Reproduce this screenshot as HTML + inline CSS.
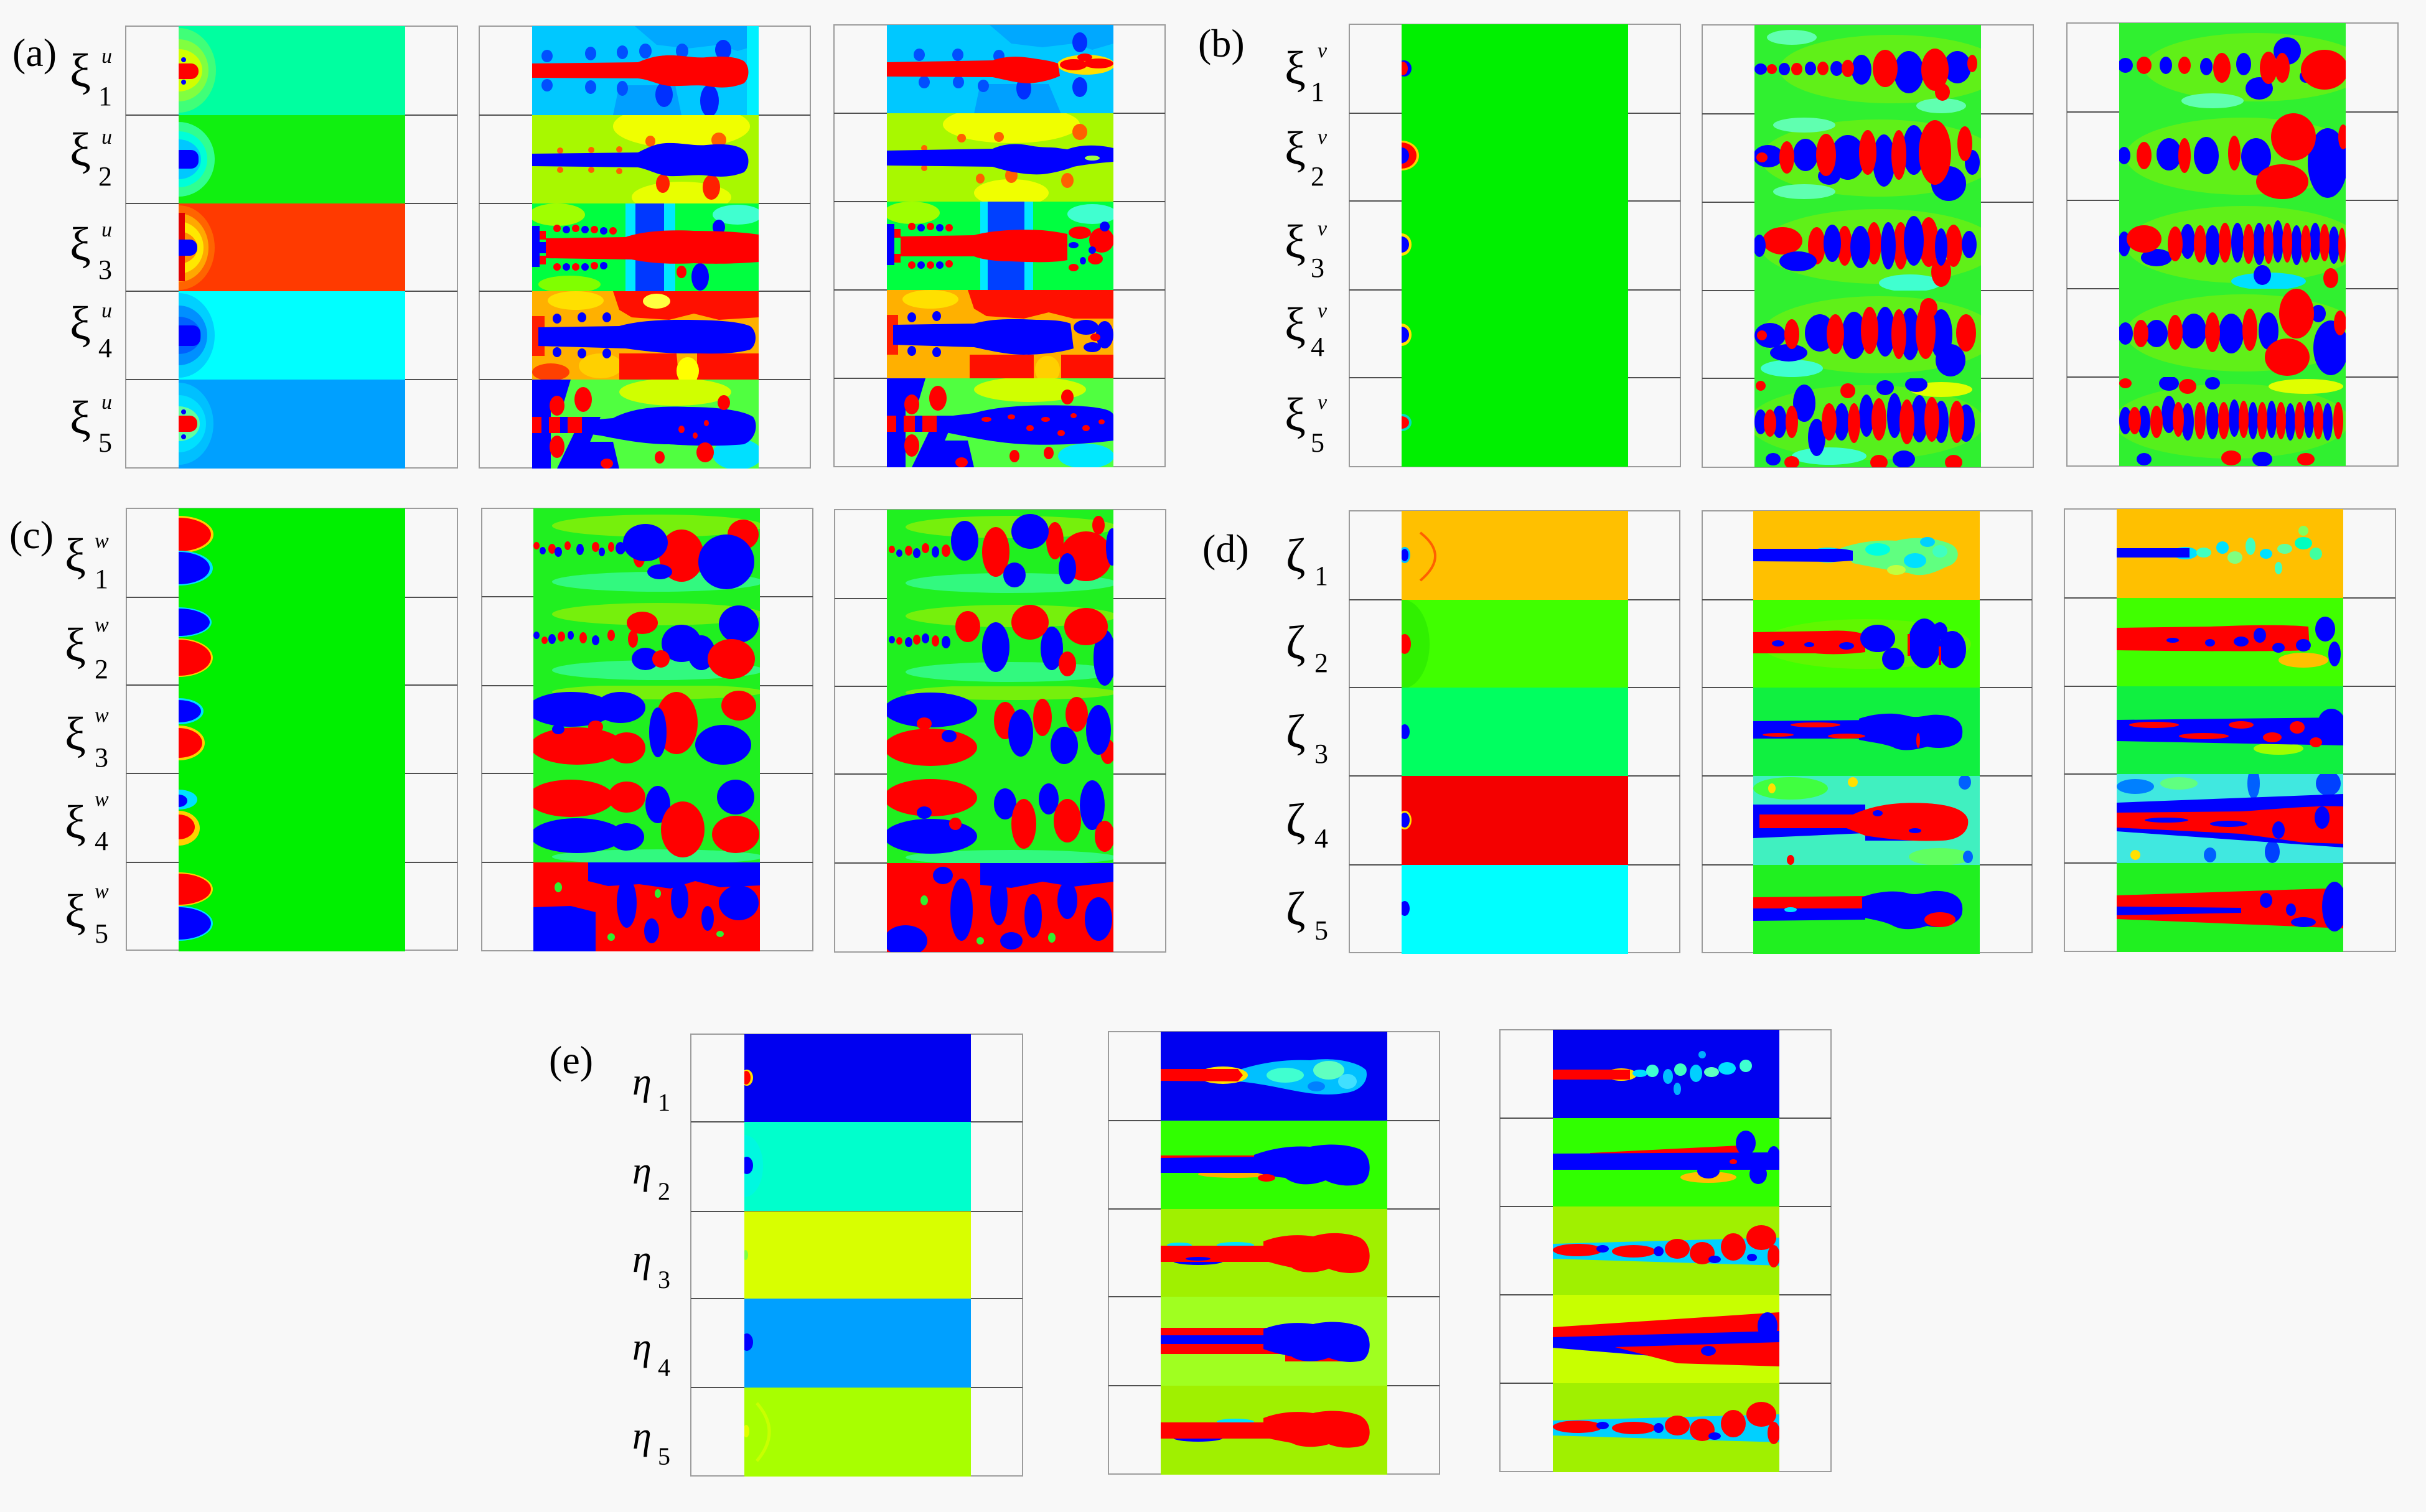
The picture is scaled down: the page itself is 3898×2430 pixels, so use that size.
<!DOCTYPE html>
<html><head><meta charset="utf-8"><style>
html,body{margin:0;padding:0;background:#f8f8f8;}
svg{display:block}
.r{fill:#ff0000}.b{fill:#0000ff}.y{fill:#ffff00}.c{fill:#00ffff}.k{fill:#0050ff}
.t{font-family:"Liberation Serif",serif;fill:#000}
.fr{fill:#f8f8f8;stroke:#9c9c9c;stroke-width:2}
.ln{stroke:#505050;stroke-width:2}
</style></head><body>
<svg width="3898" height="2430" xmlns="http://www.w3.org/2000/svg">
<defs><clipPath id="cp"><rect width="364" height="143"/></clipPath></defs>
<rect width="3898" height="2430" fill="#f8f8f8"/>

<!-- FRAMES -->
<rect class="fr" x="202" y="42" width="533" height="710"/>
<rect class="fr" x="770" y="42" width="532" height="710"/>
<rect class="fr" x="1340" y="40" width="532" height="710"/>
<rect class="fr" x="2168" y="39" width="532" height="711"/>
<rect class="fr" x="2735" y="40" width="532" height="711"/>
<rect class="fr" x="3321" y="37" width="532" height="712"/>
<rect class="fr" x="203" y="817" width="532" height="710"/>
<rect class="fr" x="774" y="817" width="532" height="711"/>
<rect class="fr" x="1341" y="819" width="532" height="711"/>
<rect class="fr" x="2168" y="821" width="531" height="710"/>
<rect class="fr" x="2735" y="821" width="530" height="710"/>
<rect class="fr" x="3317" y="818" width="532" height="711"/>
<rect class="fr" x="1110" y="1662" width="533" height="710"/>
<rect class="fr" x="1781" y="1658" width="532" height="711"/>
<rect class="fr" x="2410" y="1655" width="532" height="710"/>
<g class="ln">
<line x1="202" x2="735" y1="185" y2="185"/><line x1="202" x2="735" y1="327" y2="327"/><line x1="202" x2="735" y1="468" y2="468"/><line x1="202" x2="735" y1="610" y2="610"/>
<line x1="770" x2="1302" y1="185" y2="185"/><line x1="770" x2="1302" y1="327" y2="327"/><line x1="770" x2="1302" y1="468" y2="468"/><line x1="770" x2="1302" y1="610" y2="610"/>
<line x1="1340" x2="1872" y1="182" y2="182"/><line x1="1340" x2="1872" y1="324" y2="324"/><line x1="1340" x2="1872" y1="466" y2="466"/><line x1="1340" x2="1872" y1="608" y2="608"/>
<line x1="2168" x2="2700" y1="182" y2="182"/><line x1="2168" x2="2700" y1="323" y2="323"/><line x1="2168" x2="2700" y1="466" y2="466"/><line x1="2168" x2="2700" y1="607" y2="607"/>
<line x1="2735" x2="3267" y1="183" y2="183"/><line x1="2735" x2="3267" y1="325" y2="325"/><line x1="2735" x2="3267" y1="467" y2="467"/><line x1="2735" x2="3267" y1="608" y2="608"/>
<line x1="3321" x2="3853" y1="180" y2="180"/><line x1="3321" x2="3853" y1="322" y2="322"/><line x1="3321" x2="3853" y1="464" y2="464"/><line x1="3321" x2="3853" y1="606" y2="606"/>
<line x1="203" x2="735" y1="960" y2="960"/><line x1="203" x2="735" y1="1101" y2="1101"/><line x1="203" x2="735" y1="1243" y2="1243"/><line x1="203" x2="735" y1="1386" y2="1386"/>
<line x1="774" x2="1306" y1="959" y2="959"/><line x1="774" x2="1306" y1="1102" y2="1102"/><line x1="774" x2="1306" y1="1243" y2="1243"/><line x1="774" x2="1306" y1="1386" y2="1386"/>
<line x1="1341" x2="1873" y1="962" y2="962"/><line x1="1341" x2="1873" y1="1103" y2="1103"/><line x1="1341" x2="1873" y1="1244" y2="1244"/><line x1="1341" x2="1873" y1="1387" y2="1387"/>
<line x1="2168" x2="2699" y1="964" y2="964"/><line x1="2168" x2="2699" y1="1105" y2="1105"/><line x1="2168" x2="2699" y1="1247" y2="1247"/><line x1="2168" x2="2699" y1="1390" y2="1390"/>
<line x1="2735" x2="3265" y1="964" y2="964"/><line x1="2735" x2="3265" y1="1105" y2="1105"/><line x1="2735" x2="3265" y1="1247" y2="1247"/><line x1="2735" x2="3265" y1="1390" y2="1390"/>
<line x1="3317" x2="3849" y1="961" y2="961"/><line x1="3317" x2="3849" y1="1103" y2="1103"/><line x1="3317" x2="3849" y1="1244" y2="1244"/><line x1="3317" x2="3849" y1="1387" y2="1387"/>
<line x1="1110" x2="1643" y1="1803" y2="1803"/><line x1="1110" x2="1643" y1="1947" y2="1947"/><line x1="1110" x2="1643" y1="2087" y2="2087"/><line x1="1110" x2="1643" y1="2230" y2="2230"/>
<line x1="1781" x2="2313" y1="1801" y2="1801"/><line x1="1781" x2="2313" y1="1943" y2="1943"/><line x1="1781" x2="2313" y1="2084" y2="2084"/><line x1="1781" x2="2313" y1="2227" y2="2227"/>
<line x1="2410" x2="2942" y1="1797" y2="1797"/><line x1="2410" x2="2942" y1="1939" y2="1939"/><line x1="2410" x2="2942" y1="2081" y2="2081"/><line x1="2410" x2="2942" y1="2223" y2="2223"/>
</g>

<!-- ===== PANEL A col1 ===== -->
<g transform="translate(287,42)" clip-path="url(#cp)">
<rect width="364" height="143" fill="#00ffa0"/>
<ellipse cx="0" cy="71" rx="60" ry="68" fill="#40ff78"/><ellipse cx="0" cy="71" rx="48" ry="50" fill="#80ff40"/><ellipse cx="0" cy="71" rx="38" ry="34" fill="#d0ff00"/>
<rect x="-10" y="60" width="42" height="25" rx="12" class="r"/><circle cx="8" cy="54" r="4" class="b"/><circle cx="8" cy="90" r="4" class="b"/>
</g>
<g transform="translate(287,185)" clip-path="url(#cp)">
<rect width="364" height="143" fill="#10f010"/>
<ellipse cx="0" cy="71" rx="58" ry="60" fill="#30ff90"/><ellipse cx="0" cy="71" rx="46" ry="45" fill="#00ffd8"/><ellipse cx="0" cy="71" rx="36" ry="32" fill="#00c8ff"/>
<rect x="-10" y="56" width="42" height="30" rx="12" class="b"/>
</g>
<g transform="translate(287,327)" clip-path="url(#cp)">
<rect width="364" height="143" fill="#ff3a00"/>
<ellipse cx="0" cy="71" rx="58" ry="68" fill="#ff6400"/><ellipse cx="0" cy="71" rx="48" ry="55" fill="#ffa800"/><ellipse cx="0" cy="71" rx="40" ry="42" fill="#ffe800"/><ellipse cx="0" cy="71" rx="30" ry="26" fill="#ff9000"/>
<rect x="0" y="15" width="10" height="110" fill="#e00000"/>
<rect x="-10" y="58" width="40" height="26" rx="12" class="b"/>
</g>
<g transform="translate(287,468)" clip-path="url(#cp)">
<rect width="364" height="143" fill="#00ffff"/>
<ellipse cx="0" cy="71" rx="58" ry="68" fill="#00d0ff"/><ellipse cx="0" cy="71" rx="46" ry="48" fill="#0090ff"/><ellipse cx="0" cy="71" rx="36" ry="30" fill="#0060ff"/>
<rect x="-10" y="55" width="45" height="33" rx="12" class="b"/>
</g>
<g transform="translate(287,610)" clip-path="url(#cp)">
<rect width="364" height="143" fill="#00a0ff"/>
<ellipse cx="0" cy="71" rx="56" ry="66" fill="#00c0ff"/><ellipse cx="0" cy="71" rx="44" ry="46" fill="#00e0ff"/><ellipse cx="0" cy="71" rx="34" ry="28" fill="#60ffa0"/>
<rect x="-10" y="58" width="40" height="26" rx="12" class="r"/><circle cx="8" cy="52" r="4" class="b"/><circle cx="8" cy="92" r="4" class="b"/>
</g>

<!-- ===== PANEL A col2 ===== -->
<g transform="translate(855,42)" clip-path="url(#cp)">
<rect width="364" height="143" fill="#00c8ff"/>
<path d="M165,0 L364,0 L364,30 L330,40 L300,30 L250,36 L200,30 Z" fill="#00a8ff"/>
<path d="M140,95 L230,95 L240,143 L130,143 Z" fill="#00a0ff"/>
<rect x="345" width="19" height="143" fill="#00f0ff"/>
<g class="k"><ellipse cx="24" cy="48" rx="9" ry="10"/><ellipse cx="94" cy="44" rx="9" ry="11"/><ellipse cx="145" cy="42" rx="9" ry="11"/><ellipse cx="182" cy="40" rx="10" ry="12"/><ellipse cx="241" cy="40" rx="10" ry="12"/><ellipse cx="24" cy="95" rx="9" ry="10"/><ellipse cx="94" cy="98" rx="9" ry="11"/><ellipse cx="145" cy="100" rx="9" ry="12"/></g>
<ellipse cx="307" cy="38" rx="13" ry="16" fill="#0030ff"/><ellipse cx="212" cy="110" rx="14" ry="20" fill="#0030ff"/><ellipse cx="285" cy="120" rx="15" ry="26" fill="#0020ff"/>
<path d="M0,60 L170,58 C190,50 200,48 215,47 C240,46 260,52 280,50 C310,47 330,50 340,56 C350,64 350,84 340,92 C320,100 300,100 280,96 C260,94 240,97 220,96 C200,94 190,86 170,84 L0,83 Z" class="r"/>
</g>
<g transform="translate(855,185)" clip-path="url(#cp)">
<rect width="364" height="143" fill="#a8f800"/>
<ellipse cx="240" cy="18" rx="110" ry="35" fill="#f0ff00"/><ellipse cx="240" cy="132" rx="80" ry="25" fill="#e8ff00"/>
<g fill="#ff6000"><ellipse cx="190" cy="42" rx="8" ry="9"/><ellipse cx="300" cy="40" rx="12" ry="12"/><ellipse cx="45" cy="57" rx="5" ry="5"/><ellipse cx="95" cy="56" rx="5" ry="5"/><ellipse cx="140" cy="55" rx="5" ry="5"/><ellipse cx="45" cy="88" rx="5" ry="5"/><ellipse cx="95" cy="88" rx="5" ry="5"/><ellipse cx="140" cy="90" rx="5" ry="5"/></g>
<g fill="#ff2000"><ellipse cx="210" cy="110" rx="11" ry="15"/><ellipse cx="288" cy="116" rx="14" ry="20"/></g>
<path d="M0,62 L170,60 C190,50 200,46 215,45 C240,44 260,50 280,48 C310,45 330,48 340,56 C350,64 350,84 340,92 C320,100 300,100 280,97 C260,95 240,99 220,98 C200,96 190,88 170,84 L0,82 Z" class="b"/>
</g>
<g transform="translate(855,327)" clip-path="url(#cp)">
<rect width="364" height="143" fill="#00ff40"/>
<ellipse cx="40" cy="18" rx="45" ry="18" fill="#a0ff00"/><ellipse cx="330" cy="18" rx="40" ry="16" fill="#40ffd0"/><ellipse cx="60" cy="130" rx="50" ry="14" fill="#80ff00"/>
<rect x="150" width="80" height="143" fill="#00e8ff"/><rect x="166" width="46" height="143" fill="#0038ff"/>
<ellipse cx="270" cy="118" rx="14" ry="22" class="b"/><ellipse cx="300" cy="38" rx="10" ry="12" class="b"/><ellipse cx="240" cy="110" rx="8" ry="10" class="r"/>
<g class="r"><circle cx="40" cy="40" r="6"/><circle cx="70" cy="40" r="6"/><circle cx="100" cy="42" r="6"/><circle cx="130" cy="44" r="6"/><circle cx="40" cy="102" r="6"/><circle cx="70" cy="102" r="6"/><circle cx="100" cy="100" r="6"/></g>
<g class="b"><circle cx="55" cy="42" r="6"/><circle cx="85" cy="42" r="6"/><circle cx="115" cy="44" r="6"/><circle cx="55" cy="102" r="6"/><circle cx="85" cy="102" r="6"/><circle cx="115" cy="100" r="6"/></g>
<path d="M22,56 L150,54 C180,44 220,42 260,44 C300,44 340,46 364,50 L364,94 C340,96 300,98 260,96 C220,98 190,96 160,90 L22,88 Z" class="r"/>
<rect x="0" y="36" width="12" height="66" class="b"/><rect x="12" y="44" width="10" height="14" class="r"/><rect x="12" y="84" width="10" height="14" class="r"/><rect x="12" y="62" width="10" height="18" class="b"/>
</g>
<g transform="translate(855,468)" clip-path="url(#cp)">
<rect width="364" height="143" fill="#ffb000"/>
<ellipse cx="70" cy="15" rx="45" ry="15" fill="#ffe000"/><ellipse cx="110" cy="120" rx="35" ry="20" fill="#ffd000"/>
<path d="M130,0 L364,0 L364,42 L300,46 L260,36 L220,46 L160,42 L140,30 Z" fill="#ff1000"/>
<ellipse cx="200" cy="16" rx="22" ry="12" fill="#ffff40"/>
<rect x="0" y="40" width="20" height="64" fill="#ff2000"/>
<path d="M140,100 L232,100 L236,143 L140,143 Z" fill="#ff1000"/><path d="M265,100 L364,100 L364,143 L265,143 Z" fill="#ff1000"/>
<ellipse cx="250" cy="128" rx="18" ry="22" fill="#ffff00"/><ellipse cx="30" cy="130" rx="30" ry="14" fill="#ff4000"/>
<g class="b"><ellipse cx="40" cy="44" rx="7" ry="8"/><ellipse cx="80" cy="42" rx="7" ry="8"/><ellipse cx="120" cy="42" rx="7" ry="8"/><ellipse cx="40" cy="98" rx="7" ry="8"/><ellipse cx="80" cy="100" rx="7" ry="8"/><ellipse cx="120" cy="100" rx="7" ry="8"/></g>
<path d="M10,58 L140,56 C170,48 200,46 240,46 C290,46 330,48 350,56 C362,64 362,86 350,94 C320,102 290,100 250,100 C210,100 180,96 150,92 L10,88 Z" class="b"/>
</g>
<g transform="translate(855,610)" clip-path="url(#cp)">
<rect width="364" height="143" fill="#50ff40"/>
<ellipse cx="230" cy="20" rx="90" ry="22" fill="#d0ff00"/><ellipse cx="330" cy="120" rx="40" ry="25" fill="#00e0ff"/>
<rect x="0" y="0" width="30" height="143" class="b"/>
<path d="M40,143 L75,143 L110,60 L80,60 Z" class="b"/><path d="M30,0 L62,0 L50,40 L25,50 Z" class="b"/><path d="M70,100 L130,100 L140,143 L60,143 Z" class="b"/>
<ellipse cx="82" cy="32" rx="14" ry="20" class="r"/><ellipse cx="40" cy="42" rx="12" ry="16" class="r"/><ellipse cx="40" cy="108" rx="12" ry="18" class="r"/>
<rect x="0" y="60" width="80" height="26" class="r"/><rect x="15" y="60" width="12" height="26" class="b"/><rect x="45" y="60" width="12" height="26" class="b"/>
<path d="M80,66 L130,62 C160,46 200,42 250,44 C300,44 340,50 355,60 C364,72 360,96 340,104 C300,108 250,106 220,104 C180,104 140,96 110,90 L80,86 Z" class="b"/>
<g class="r"><ellipse cx="240" cy="80" rx="5" ry="6"/><ellipse cx="262" cy="90" rx="4" ry="5"/><ellipse cx="280" cy="70" rx="4" ry="5"/><ellipse cx="278" cy="117" rx="14" ry="16"/><ellipse cx="205" cy="125" rx="8" ry="10"/><ellipse cx="308" cy="37" rx="10" ry="12"/><ellipse cx="120" cy="135" rx="10" ry="8"/></g>
</g>

<!-- ===== PANEL A col3 ===== -->
<g transform="translate(1425,40)" clip-path="url(#cp)">
<rect width="364" height="143" fill="#00c8ff"/>
<path d="M165,0 L364,0 L364,30 L330,40 L300,30 L250,36 L200,30 Z" fill="#00a8ff"/>
<path d="M150,95 L260,95 L280,143 L140,143 Z" fill="#00a0ff"/>
<g class="k"><ellipse cx="52" cy="48" rx="9" ry="10"/><ellipse cx="114" cy="48" rx="9" ry="10"/><ellipse cx="180" cy="50" rx="9" ry="10"/><ellipse cx="60" cy="92" rx="9" ry="10"/><ellipse cx="115" cy="92" rx="9" ry="10"/><ellipse cx="155" cy="98" rx="9" ry="10"/></g>
<ellipse cx="310" cy="28" rx="12" ry="16" fill="#0030ff"/><ellipse cx="220" cy="102" rx="12" ry="18" fill="#0030ff"/><ellipse cx="310" cy="100" rx="12" ry="16" fill="#0030ff"/>
<ellipse cx="320" cy="64" rx="46" ry="16" fill="#ffe000"/>
<path d="M0,60 L170,57 C190,50 210,50 230,53 C250,56 265,58 275,62 L278,82 C265,88 250,92 230,94 C210,94 190,88 170,84 L0,83 Z" class="r"/>
<ellipse cx="300" cy="64" rx="22" ry="9" class="r"/><ellipse cx="340" cy="62" rx="24" ry="8" class="r"/><ellipse cx="318" cy="52" rx="12" ry="6" class="r"/>
</g>
<g transform="translate(1425,182)" clip-path="url(#cp)">
<rect width="364" height="143" fill="#a8f800"/>
<ellipse cx="200" cy="18" rx="110" ry="30" fill="#f0ff00"/><ellipse cx="200" cy="128" rx="60" ry="22" fill="#f0ff00"/>
<g fill="#ff6000"><ellipse cx="120" cy="40" rx="7" ry="7"/><ellipse cx="180" cy="38" rx="8" ry="8"/><ellipse cx="310" cy="30" rx="12" ry="13"/><ellipse cx="150" cy="105" rx="7" ry="8"/><ellipse cx="200" cy="100" rx="10" ry="12"/><ellipse cx="290" cy="108" rx="10" ry="12"/><ellipse cx="60" cy="56" rx="5" ry="5"/><ellipse cx="60" cy="88" rx="5" ry="5"/></g>
<path d="M0,60 L170,57 C190,48 210,48 230,52 C250,56 265,54 275,56 L290,58 C310,50 340,50 364,56 L364,78 C340,80 320,82 300,86 C290,90 270,96 250,98 C220,100 190,92 170,86 L0,84 Z" class="b"/>
<ellipse cx="330" cy="72" rx="12" ry="4" fill="#a0ff40"/>
</g>
<g transform="translate(1425,324)" clip-path="url(#cp)">
<rect width="364" height="143" fill="#00ff40"/>
<ellipse cx="40" cy="18" rx="45" ry="18" fill="#a0ff00"/><ellipse cx="330" cy="20" rx="40" ry="16" fill="#40ffd0"/>
<rect x="150" width="85" height="143" fill="#00e8ff"/><rect x="162" width="59" height="143" fill="#0040ff"/>
<g class="r"><circle cx="40" cy="40" r="6"/><circle cx="70" cy="40" r="6"/><circle cx="100" cy="42" r="6"/><circle cx="40" cy="102" r="6"/><circle cx="70" cy="102" r="6"/><circle cx="100" cy="100" r="6"/></g>
<g class="b"><circle cx="55" cy="42" r="6"/><circle cx="85" cy="42" r="6"/><circle cx="55" cy="102" r="6"/><circle cx="85" cy="102" r="6"/></g>
<path d="M22,56 L140,54 C170,46 210,44 250,46 C270,48 280,50 290,52 L290,94 C270,98 240,98 200,96 C170,96 150,92 140,88 L22,88 Z" class="r"/>
<ellipse cx="310" cy="50" rx="18" ry="10" class="r"/><ellipse cx="345" cy="62" rx="20" ry="20" class="r"/><ellipse cx="335" cy="92" rx="12" ry="9" class="r"/><ellipse cx="300" cy="106" rx="8" ry="6" class="r"/>
<g class="b"><ellipse cx="300" cy="70" rx="8" ry="5"/><ellipse cx="330" cy="78" rx="6" ry="6"/><ellipse cx="315" cy="95" rx="5" ry="6"/><ellipse cx="350" cy="40" rx="8" ry="8"/></g>
<rect x="0" y="36" width="12" height="66" class="b"/><rect x="12" y="44" width="10" height="14" class="r"/><rect x="12" y="84" width="10" height="14" class="r"/>
</g>
<g transform="translate(1425,466)" clip-path="url(#cp)">
<rect width="364" height="143" fill="#ffb000"/>
<ellipse cx="70" cy="15" rx="45" ry="15" fill="#ffe000"/>
<path d="M130,0 L364,0 L364,46 L300,46 L260,36 L220,46 L160,42 L140,30 Z" fill="#ff1000"/>
<rect x="0" y="40" width="18" height="64" fill="#ff2000"/>
<path d="M133,104 L236,104 L236,143 L133,143 Z" fill="#ff1000"/><path d="M280,104 L364,104 L364,143 L280,143 Z" fill="#ff1000"/>
<ellipse cx="258" cy="128" rx="20" ry="22" fill="#ffd000"/>
<g class="b"><ellipse cx="40" cy="44" rx="7" ry="8"/><ellipse cx="80" cy="42" rx="7" ry="8"/><ellipse cx="40" cy="98" rx="7" ry="8"/><ellipse cx="80" cy="100" rx="7" ry="8"/></g>
<path d="M10,56 L140,54 C170,46 200,46 240,48 C270,48 285,50 295,54 L300,94 C280,100 250,104 220,104 C190,104 160,96 140,92 L10,88 Z" class="b"/>
<ellipse cx="320" cy="60" rx="20" ry="12" class="b"/><ellipse cx="350" cy="72" rx="14" ry="22" class="b"/><ellipse cx="330" cy="92" rx="14" ry="8" class="b"/><ellipse cx="335" cy="76" rx="8" ry="6" class="r"/>
</g>
<g transform="translate(1425,608)" clip-path="url(#cp)">
<rect width="364" height="143" fill="#50ff40"/>
<ellipse cx="230" cy="18" rx="90" ry="20" fill="#d0ff00"/><ellipse cx="320" cy="125" rx="45" ry="20" fill="#00e8ff"/>
<rect x="0" y="0" width="30" height="143" class="b"/>
<path d="M40,143 L75,143 L110,60 L80,60 Z" class="b"/><path d="M30,0 L62,0 L50,40 L25,50 Z" class="b"/><path d="M70,100 L130,100 L140,143 L60,143 Z" class="b"/>
<ellipse cx="82" cy="32" rx="14" ry="20" class="r"/><ellipse cx="40" cy="42" rx="12" ry="16" class="r"/><ellipse cx="40" cy="108" rx="12" ry="18" class="r"/>
<rect x="0" y="60" width="80" height="26" class="r"/><rect x="15" y="60" width="12" height="26" class="b"/><rect x="45" y="60" width="12" height="26" class="b"/>
<path d="M90,62 L140,56 C180,44 240,42 300,44 C340,46 364,50 364,60 L364,100 C320,106 260,108 220,106 C180,104 140,96 110,90 L90,86 Z" class="b"/>
<g class="r"><ellipse cx="160" cy="66" rx="8" ry="4"/><ellipse cx="200" cy="62" rx="6" ry="4"/><ellipse cx="230" cy="80" rx="6" ry="5"/><ellipse cx="255" cy="66" rx="7" ry="4"/><ellipse cx="280" cy="88" rx="6" ry="5"/><ellipse cx="300" cy="60" rx="5" ry="4"/><ellipse cx="320" cy="80" rx="6" ry="5"/><ellipse cx="345" cy="70" rx="5" ry="4"/><ellipse cx="205" cy="125" rx="8" ry="10"/><ellipse cx="290" cy="30" rx="10" ry="12"/><ellipse cx="120" cy="135" rx="10" ry="8"/><ellipse cx="260" cy="120" rx="8" ry="10"/></g>
</g>

<!-- ===== PANEL B col1 ===== -->
<g transform="translate(2252,39)" clip-path="url(#cp)"><rect width="364" height="143" fill="#00f000"/><ellipse cx="4" cy="71" rx="12" ry="13" class="b"/><ellipse cx="2" cy="71" rx="8" ry="11" class="r"/></g>
<g transform="translate(2252,182)" clip-path="url(#cp)"><rect width="364" height="143" fill="#00f000"/><ellipse cx="0" cy="68" rx="28" ry="24" fill="#ffd000"/><ellipse cx="0" cy="68" rx="24" ry="21" class="r"/><ellipse cx="0" cy="68" rx="12" ry="13" class="b"/></g>
<g transform="translate(2252,323)" clip-path="url(#cp)"><rect width="364" height="143" fill="#00f000"/><ellipse cx="0" cy="70" rx="16" ry="18" fill="#ffe000"/><ellipse cx="0" cy="70" rx="12" ry="13" class="b"/></g>
<g transform="translate(2252,466)" clip-path="url(#cp)"><rect width="364" height="143" fill="#00f000"/><ellipse cx="0" cy="72" rx="16" ry="18" fill="#ffe000"/><ellipse cx="0" cy="72" rx="12" ry="13" class="b"/></g>
<g transform="translate(2252,607)" clip-path="url(#cp)"><rect width="364" height="143" fill="#00f000"/><ellipse cx="0" cy="72" rx="16" ry="14" fill="#00e0c0"/><ellipse cx="0" cy="72" rx="12" ry="10" class="r"/></g>

<!-- ===== PANEL B col2 ===== -->
<g transform="translate(2819,40)" clip-path="url(#cp)">
<rect width="364" height="143" fill="#30f030"/>
<ellipse cx="220" cy="71" rx="180" ry="55" fill="#90f000" opacity=".5"/><ellipse cx="60" cy="20" rx="40" ry="12" fill="#60ffb0"/><ellipse cx="300" cy="130" rx="40" ry="12" fill="#60ffb0"/>
<g class="b"><ellipse cx="10" cy="71" rx="10" ry="9"/><ellipse cx="48" cy="71" rx="9" ry="10"/><ellipse cx="90" cy="70" rx="9" ry="11"/><ellipse cx="132" cy="70" rx="10" ry="12"/><ellipse cx="172" cy="72" rx="16" ry="24"/><ellipse cx="248" cy="76" rx="24" ry="34"/><ellipse cx="326" cy="68" rx="22" ry="26"/></g>
<g class="r"><ellipse cx="28" cy="71" rx="8" ry="8"/><ellipse cx="68" cy="71" rx="9" ry="10"/><ellipse cx="110" cy="70" rx="9" ry="11"/><ellipse cx="150" cy="70" rx="10" ry="14"/><ellipse cx="210" cy="70" rx="20" ry="30"/><ellipse cx="290" cy="72" rx="22" ry="34"/><ellipse cx="302" cy="108" rx="12" ry="14"/><ellipse cx="350" cy="62" rx="8" ry="14"/></g>
</g>
<g transform="translate(2819,183)" clip-path="url(#cp)">
<rect width="364" height="143" fill="#30f030"/>
<ellipse cx="200" cy="71" rx="190" ry="62" fill="#90f000" opacity=".5"/><ellipse cx="80" cy="18" rx="50" ry="12" fill="#60ffb0"/><ellipse cx="80" cy="125" rx="50" ry="12" fill="#60ffb0"/>
<g class="b"><ellipse cx="22" cy="68" rx="24" ry="18"/><ellipse cx="82" cy="66" rx="20" ry="26"/><ellipse cx="150" cy="70" rx="28" ry="36"/><ellipse cx="208" cy="75" rx="18" ry="42"/><ellipse cx="256" cy="58" rx="18" ry="40"/><ellipse cx="312" cy="112" rx="28" ry="28"/><ellipse cx="350" cy="78" rx="12" ry="20"/><ellipse cx="120" cy="100" rx="18" ry="14"/></g>
<g class="r"><ellipse cx="12" cy="70" rx="9" ry="8"/><ellipse cx="52" cy="70" rx="12" ry="26"/><ellipse cx="115" cy="66" rx="16" ry="34"/><ellipse cx="182" cy="62" rx="14" ry="36"/><ellipse cx="232" cy="66" rx="12" ry="40"/><ellipse cx="290" cy="62" rx="26" ry="52"/><ellipse cx="338" cy="48" rx="12" ry="28"/></g>
</g>
<g transform="translate(2819,325)" clip-path="url(#cp)">
<rect width="364" height="143" fill="#30f030"/>
<ellipse cx="200" cy="71" rx="190" ry="60" fill="#90f000" opacity=".5"/><ellipse cx="250" cy="130" rx="50" ry="14" fill="#40ffd0"/>
<g class="r"><ellipse cx="45" cy="62" rx="32" ry="22"/><ellipse cx="100" cy="70" rx="14" ry="30"/><ellipse cx="145" cy="70" rx="12" ry="32"/><ellipse cx="192" cy="66" rx="12" ry="34"/><ellipse cx="235" cy="70" rx="12" ry="38"/><ellipse cx="280" cy="64" rx="16" ry="40"/><ellipse cx="320" cy="70" rx="14" ry="34"/><ellipse cx="300" cy="112" rx="16" ry="24"/></g>
<g class="b"><ellipse cx="8" cy="70" rx="10" ry="18"/><ellipse cx="70" cy="95" rx="30" ry="16"/><ellipse cx="125" cy="66" rx="14" ry="30"/><ellipse cx="170" cy="72" rx="16" ry="34"/><ellipse cx="215" cy="70" rx="12" ry="38"/><ellipse cx="256" cy="62" rx="16" ry="40"/><ellipse cx="300" cy="72" rx="10" ry="30"/><ellipse cx="345" cy="68" rx="12" ry="22"/></g>
</g>
<g transform="translate(2819,467)" clip-path="url(#cp)">
<rect width="364" height="143" fill="#30f030"/>
<ellipse cx="200" cy="71" rx="190" ry="62" fill="#90f000" opacity=".5"/><ellipse cx="60" cy="125" rx="50" ry="14" fill="#40ffd0"/>
<g class="b"><ellipse cx="25" cy="72" rx="25" ry="20"/><ellipse cx="55" cy="100" rx="30" ry="14"/><ellipse cx="105" cy="68" rx="24" ry="30"/><ellipse cx="160" cy="72" rx="20" ry="38"/><ellipse cx="210" cy="66" rx="16" ry="40"/><ellipse cx="250" cy="70" rx="16" ry="42"/><ellipse cx="300" cy="70" rx="18" ry="40"/><ellipse cx="315" cy="112" rx="24" ry="26"/></g>
<g class="r"><ellipse cx="12" cy="72" rx="8" ry="8"/><ellipse cx="60" cy="70" rx="12" ry="24"/><ellipse cx="130" cy="70" rx="14" ry="32"/><ellipse cx="185" cy="64" rx="14" ry="38"/><ellipse cx="232" cy="70" rx="12" ry="40"/><ellipse cx="275" cy="66" rx="16" ry="44"/><ellipse cx="280" cy="28" rx="14" ry="16"/><ellipse cx="340" cy="68" rx="16" ry="30"/></g>
</g>
<g transform="translate(2819,608)" clip-path="url(#cp)">
<rect width="364" height="143" fill="#30f030"/>
<ellipse cx="180" cy="71" rx="190" ry="60" fill="#90f000" opacity=".4"/><ellipse cx="120" cy="125" rx="60" ry="14" fill="#40ffd0"/><ellipse cx="300" cy="18" rx="50" ry="12" fill="#e0ff00"/>
<g class="b"><ellipse cx="10" cy="70" rx="10" ry="20"/><ellipse cx="40" cy="70" rx="12" ry="26"/><ellipse cx="80" cy="40" rx="18" ry="30"/><ellipse cx="100" cy="95" rx="14" ry="30"/><ellipse cx="140" cy="70" rx="12" ry="30"/><ellipse cx="180" cy="60" rx="12" ry="34"/><ellipse cx="225" cy="60" rx="12" ry="36"/><ellipse cx="265" cy="65" rx="14" ry="38"/><ellipse cx="300" cy="70" rx="12" ry="34"/><ellipse cx="340" cy="72" rx="14" ry="30"/><ellipse cx="240" cy="130" rx="18" ry="14"/><ellipse cx="30" cy="130" rx="12" ry="10"/><ellipse cx="260" cy="10" rx="18" ry="12"/><ellipse cx="210" cy="15" rx="14" ry="12"/></g>
<g class="r"><ellipse cx="25" cy="72" rx="10" ry="22"/><ellipse cx="60" cy="70" rx="10" ry="26"/><ellipse cx="120" cy="70" rx="12" ry="30"/><ellipse cx="160" cy="72" rx="10" ry="32"/><ellipse cx="200" cy="66" rx="12" ry="34"/><ellipse cx="245" cy="70" rx="12" ry="36"/><ellipse cx="285" cy="66" rx="12" ry="36"/><ellipse cx="325" cy="70" rx="12" ry="34"/><ellipse cx="150" cy="20" rx="12" ry="12"/><ellipse cx="10" cy="12" rx="8" ry="8"/><ellipse cx="60" cy="135" rx="12" ry="10"/><ellipse cx="200" cy="135" rx="14" ry="12"/><ellipse cx="320" cy="135" rx="14" ry="12"/></g>
</g>

<!-- ===== PANEL B col3 ===== -->
<g transform="translate(3405,37)" clip-path="url(#cp)">
<rect width="364" height="143" fill="#30f030"/>
<ellipse cx="220" cy="71" rx="180" ry="55" fill="#90f000" opacity=".5"/><ellipse cx="150" cy="125" rx="50" ry="12" fill="#60ffb0"/>
<g class="b"><ellipse cx="10" cy="68" rx="12" ry="12"/><ellipse cx="75" cy="68" rx="10" ry="14"/><ellipse cx="140" cy="70" rx="10" ry="14"/><ellipse cx="200" cy="66" rx="12" ry="18"/><ellipse cx="225" cy="105" rx="22" ry="18"/><ellipse cx="270" cy="45" rx="22" ry="22"/><ellipse cx="300" cy="86" rx="10" ry="10"/></g>
<g class="r"><ellipse cx="40" cy="68" rx="12" ry="14"/><ellipse cx="105" cy="68" rx="10" ry="14"/><ellipse cx="165" cy="72" rx="14" ry="24"/><ellipse cx="240" cy="72" rx="14" ry="26"/><ellipse cx="262" cy="72" rx="12" ry="24"/><ellipse cx="330" cy="75" rx="38" ry="32"/></g>
</g>
<g transform="translate(3405,180)" clip-path="url(#cp)">
<rect width="364" height="143" fill="#30f030"/>
<ellipse cx="200" cy="71" rx="190" ry="62" fill="#90f000" opacity=".5"/>
<g class="b"><ellipse cx="8" cy="70" rx="10" ry="14"/><ellipse cx="80" cy="68" rx="20" ry="26"/><ellipse cx="140" cy="70" rx="20" ry="30"/><ellipse cx="220" cy="72" rx="24" ry="30"/><ellipse cx="335" cy="82" rx="32" ry="56"/><ellipse cx="270" cy="20" rx="12" ry="12"/></g>
<g class="r"><ellipse cx="40" cy="70" rx="12" ry="22"/><ellipse cx="105" cy="70" rx="10" ry="28"/><ellipse cx="185" cy="66" rx="10" ry="28"/><ellipse cx="280" cy="40" rx="36" ry="38"/><ellipse cx="262" cy="112" rx="42" ry="28"/><ellipse cx="360" cy="40" rx="8" ry="20"/></g>
</g>
<g transform="translate(3405,322)" clip-path="url(#cp)">
<rect width="364" height="143" fill="#30f030"/>
<ellipse cx="200" cy="71" rx="190" ry="62" fill="#90f000" opacity=".5"/><ellipse cx="240" cy="130" rx="60" ry="14" fill="#00e0ff"/>
<g class="b"><ellipse cx="8" cy="70" rx="10" ry="20"/><ellipse cx="60" cy="92" rx="25" ry="14"/><ellipse cx="110" cy="66" rx="12" ry="28"/><ellipse cx="150" cy="72" rx="12" ry="32"/><ellipse cx="190" cy="68" rx="10" ry="32"/><ellipse cx="225" cy="70" rx="10" ry="34"/><ellipse cx="255" cy="66" rx="9" ry="34"/><ellipse cx="285" cy="72" rx="9" ry="32"/><ellipse cx="315" cy="66" rx="9" ry="30"/><ellipse cx="345" cy="72" rx="9" ry="30"/><ellipse cx="230" cy="120" rx="14" ry="16"/></g>
<g class="r"><ellipse cx="40" cy="62" rx="28" ry="22"/><ellipse cx="90" cy="70" rx="12" ry="28"/><ellipse cx="130" cy="70" rx="10" ry="30"/><ellipse cx="170" cy="68" rx="10" ry="32"/><ellipse cx="208" cy="70" rx="9" ry="32"/><ellipse cx="240" cy="70" rx="8" ry="32"/><ellipse cx="270" cy="68" rx="8" ry="32"/><ellipse cx="300" cy="70" rx="8" ry="30"/><ellipse cx="330" cy="68" rx="8" ry="30"/><ellipse cx="358" cy="72" rx="6" ry="28"/><ellipse cx="340" cy="125" rx="12" ry="16"/></g>
</g>
<g transform="translate(3405,464)" clip-path="url(#cp)">
<rect width="364" height="143" fill="#30f030"/>
<ellipse cx="200" cy="71" rx="190" ry="62" fill="#90f000" opacity=".5"/>
<g class="b"><ellipse cx="10" cy="72" rx="12" ry="18"/><ellipse cx="60" cy="72" rx="18" ry="22"/><ellipse cx="120" cy="68" rx="20" ry="28"/><ellipse cx="180" cy="72" rx="20" ry="32"/><ellipse cx="240" cy="68" rx="16" ry="30"/><ellipse cx="340" cy="95" rx="28" ry="44"/><ellipse cx="320" cy="40" rx="12" ry="14"/></g>
<g class="r"><ellipse cx="35" cy="72" rx="12" ry="22"/><ellipse cx="90" cy="70" rx="12" ry="28"/><ellipse cx="150" cy="70" rx="12" ry="32"/><ellipse cx="210" cy="66" rx="12" ry="34"/><ellipse cx="285" cy="40" rx="28" ry="40"/><ellipse cx="270" cy="110" rx="36" ry="30"/><ellipse cx="355" cy="55" rx="10" ry="20"/></g>
</g>
<g transform="translate(3405,606)" clip-path="url(#cp)">
<rect width="364" height="143" fill="#30f030"/>
<ellipse cx="180" cy="71" rx="190" ry="60" fill="#90f000" opacity=".4"/><ellipse cx="300" cy="15" rx="60" ry="12" fill="#e0ff00"/>
<g class="b"><ellipse cx="10" cy="70" rx="10" ry="22"/><ellipse cx="40" cy="72" rx="10" ry="26"/><ellipse cx="80" cy="60" rx="12" ry="30"/><ellipse cx="110" cy="72" rx="10" ry="30"/><ellipse cx="150" cy="70" rx="10" ry="30"/><ellipse cx="185" cy="66" rx="9" ry="30"/><ellipse cx="215" cy="70" rx="8" ry="30"/><ellipse cx="245" cy="68" rx="8" ry="30"/><ellipse cx="275" cy="72" rx="8" ry="30"/><ellipse cx="305" cy="68" rx="8" ry="30"/><ellipse cx="335" cy="72" rx="8" ry="30"/><ellipse cx="80" cy="10" rx="16" ry="12"/><ellipse cx="150" cy="10" rx="12" ry="10"/><ellipse cx="230" cy="132" rx="16" ry="12"/><ellipse cx="40" cy="132" rx="12" ry="10"/></g>
<g class="r"><ellipse cx="25" cy="70" rx="10" ry="22"/><ellipse cx="60" cy="72" rx="10" ry="26"/><ellipse cx="95" cy="68" rx="9" ry="28"/><ellipse cx="130" cy="70" rx="9" ry="30"/><ellipse cx="168" cy="70" rx="9" ry="30"/><ellipse cx="200" cy="68" rx="8" ry="30"/><ellipse cx="230" cy="70" rx="8" ry="30"/><ellipse cx="260" cy="70" rx="8" ry="30"/><ellipse cx="290" cy="70" rx="8" ry="30"/><ellipse cx="320" cy="70" rx="8" ry="30"/><ellipse cx="352" cy="70" rx="8" ry="30"/><ellipse cx="110" cy="15" rx="14" ry="12"/><ellipse cx="10" cy="10" rx="10" ry="8"/><ellipse cx="180" cy="130" rx="16" ry="12"/><ellipse cx="300" cy="132" rx="14" ry="10"/></g>
</g>

<!-- ===== PANEL C col1 ===== -->
<g transform="translate(287,817)" clip-path="url(#cp)"><rect width="364" height="143" fill="#00f000"/><ellipse cx="0" cy="42" rx="56" ry="30" fill="#ffd000"/><ellipse cx="0" cy="42" rx="52" ry="27" class="r"/><ellipse cx="0" cy="96" rx="55" ry="28" fill="#00e0ff"/><ellipse cx="0" cy="96" rx="50" ry="26" class="b"/></g>
<g transform="translate(287,960)" clip-path="url(#cp)"><rect width="364" height="143" fill="#00f000"/><ellipse cx="0" cy="40" rx="53" ry="24" fill="#00e0ff"/><ellipse cx="0" cy="40" rx="50" ry="22" class="b"/><ellipse cx="0" cy="97" rx="55" ry="31" fill="#ffd000"/><ellipse cx="0" cy="97" rx="52" ry="29" class="r"/></g>
<g transform="translate(287,1101)" clip-path="url(#cp)"><rect width="364" height="143" fill="#00f000"/><ellipse cx="0" cy="42" rx="40" ry="21" fill="#00e0ff"/><ellipse cx="0" cy="42" rx="36" ry="18" class="b"/><ellipse cx="0" cy="93" rx="42" ry="28" fill="#ffd000"/><ellipse cx="0" cy="93" rx="38" ry="24" class="r"/></g>
<g transform="translate(287,1243)" clip-path="url(#cp)"><rect width="364" height="143" fill="#00f000"/><ellipse cx="0" cy="42" rx="30" ry="16" fill="#00e0ff"/><ellipse cx="0" cy="44" rx="14" ry="10" class="b"/><ellipse cx="0" cy="88" rx="34" ry="28" fill="#ffd000"/><ellipse cx="0" cy="86" rx="26" ry="20" class="r"/></g>
<g transform="translate(287,1386)" clip-path="url(#cp)"><rect width="364" height="143" fill="#00f000"/><ellipse cx="0" cy="43" rx="55" ry="27" fill="#ffd000"/><ellipse cx="0" cy="43" rx="52" ry="25" class="r"/><ellipse cx="0" cy="98" rx="55" ry="28" fill="#00e0ff"/><ellipse cx="0" cy="98" rx="52" ry="26" class="b"/></g>

<!-- ===== PANEL C col2 ===== -->
<g transform="translate(857,817)" clip-path="url(#cp)">
<rect width="364" height="143" fill="#20f020"/>
<ellipse cx="200" cy="28" rx="170" ry="18" fill="#b0f000" opacity=".6"/><ellipse cx="200" cy="118" rx="170" ry="16" fill="#40ffc0" opacity=".6"/>
<g class="r"><ellipse cx="5" cy="60" rx="5" ry="6"/><ellipse cx="30" cy="65" rx="6" ry="8"/><ellipse cx="55" cy="60" rx="5" ry="7"/><ellipse cx="100" cy="62" rx="6" ry="8"/><ellipse cx="125" cy="62" rx="5" ry="8"/><ellipse cx="238" cy="76" rx="36" ry="42"/><ellipse cx="337" cy="42" rx="25" ry="24"/><ellipse cx="170" cy="75" rx="10" ry="20"/></g>
<g class="b"><ellipse cx="15" cy="68" rx="5" ry="6"/><ellipse cx="40" cy="70" rx="6" ry="8"/><ellipse cx="75" cy="66" rx="6" ry="9"/><ellipse cx="110" cy="70" rx="5" ry="7"/><ellipse cx="140" cy="64" rx="8" ry="10"/><ellipse cx="180" cy="55" rx="36" ry="30"/><ellipse cx="310" cy="86" rx="45" ry="44"/><ellipse cx="203" cy="102" rx="20" ry="12"/></g>
</g>
<g transform="translate(857,959)" clip-path="url(#cp)">
<rect width="364" height="143" fill="#20f020"/>
<ellipse cx="200" cy="28" rx="170" ry="18" fill="#b0f000" opacity=".6"/><ellipse cx="200" cy="118" rx="170" ry="16" fill="#40ffc0" opacity=".6"/>
<g class="b"><ellipse cx="5" cy="62" rx="5" ry="6"/><ellipse cx="30" cy="68" rx="6" ry="8"/><ellipse cx="60" cy="62" rx="5" ry="7"/><ellipse cx="100" cy="70" rx="6" ry="8"/><ellipse cx="238" cy="75" rx="32" ry="30"/><ellipse cx="330" cy="44" rx="32" ry="30"/><ellipse cx="270" cy="90" rx="22" ry="28"/><ellipse cx="180" cy="100" rx="22" ry="18"/></g>
<g class="r"><ellipse cx="18" cy="70" rx="5" ry="6"/><ellipse cx="45" cy="64" rx="6" ry="8"/><ellipse cx="80" cy="66" rx="6" ry="9"/><ellipse cx="125" cy="62" rx="6" ry="9"/><ellipse cx="175" cy="42" rx="25" ry="18"/><ellipse cx="205" cy="100" rx="14" ry="14"/><ellipse cx="318" cy="100" rx="38" ry="32"/><ellipse cx="160" cy="68" rx="8" ry="14"/></g>
</g>
<g transform="translate(857,1102)" clip-path="url(#cp)">
<rect width="364" height="143" fill="#20f020"/>
<ellipse cx="200" cy="10" rx="170" ry="12" fill="#b0f000" opacity=".6"/>
<ellipse cx="60" cy="38" rx="70" ry="28" class="b"/><ellipse cx="140" cy="35" rx="40" ry="25" class="b"/>
<ellipse cx="70" cy="97" rx="75" ry="30" class="r"/><ellipse cx="150" cy="100" rx="30" ry="25" class="r"/>
<ellipse cx="230" cy="60" rx="34" ry="50" class="r"/><ellipse cx="305" cy="95" rx="45" ry="32" class="b"/><ellipse cx="330" cy="32" rx="28" ry="24" class="r"/><ellipse cx="200" cy="75" rx="14" ry="40" class="b"/>
<ellipse cx="100" cy="66" rx="12" ry="10" class="r"/><ellipse cx="40" cy="70" rx="10" ry="8" class="b"/>
</g>
<g transform="translate(857,1243)" clip-path="url(#cp)">
<rect width="364" height="143" fill="#20f020"/>
<ellipse cx="200" cy="134" rx="170" ry="12" fill="#40ffc0" opacity=".6"/>
<ellipse cx="60" cy="40" rx="70" ry="30" class="r"/><ellipse cx="150" cy="38" rx="30" ry="25" class="r"/>
<ellipse cx="70" cy="100" rx="75" ry="28" class="b"/><ellipse cx="150" cy="102" rx="28" ry="22" class="b"/>
<ellipse cx="200" cy="50" rx="20" ry="30" class="b"/><ellipse cx="240" cy="90" rx="35" ry="45" class="r"/><ellipse cx="325" cy="38" rx="30" ry="28" class="b"/><ellipse cx="325" cy="98" rx="38" ry="30" class="r"/>
</g>
<g transform="translate(857,1386)" clip-path="url(#cp)">
<rect width="364" height="143" class="r"/>
<path d="M88,0 L364,0 L364,37 L300,40 L260,30 L220,42 L170,35 L120,38 L88,30 Z" class="b"/>
<path d="M0,72 L60,70 L100,80 L100,143 L0,143 Z" class="b"/>
<g class="b"><ellipse cx="150" cy="65" rx="16" ry="40"/><ellipse cx="235" cy="60" rx="14" ry="30"/><ellipse cx="330" cy="65" rx="32" ry="28"/><ellipse cx="190" cy="110" rx="12" ry="20"/><ellipse cx="280" cy="90" rx="10" ry="20"/></g>
<g fill="#30f030"><ellipse cx="40" cy="40" rx="6" ry="8"/><ellipse cx="125" cy="120" rx="6" ry="6"/><ellipse cx="200" cy="50" rx="5" ry="7"/><ellipse cx="300" cy="115" rx="6" ry="5"/></g>
</g>

<!-- ===== PANEL C col3 ===== -->
<g transform="translate(1425,819)" clip-path="url(#cp)">
<rect width="364" height="143" fill="#20f020"/>
<ellipse cx="200" cy="28" rx="170" ry="18" fill="#b0f000" opacity=".6"/><ellipse cx="200" cy="118" rx="170" ry="16" fill="#40ffc0" opacity=".6"/>
<g class="r"><ellipse cx="8" cy="64" rx="5" ry="6"/><ellipse cx="35" cy="66" rx="6" ry="8"/><ellipse cx="62" cy="62" rx="6" ry="8"/><ellipse cx="95" cy="66" rx="7" ry="10"/><ellipse cx="175" cy="68" rx="22" ry="40"/><ellipse cx="270" cy="50" rx="14" ry="30"/><ellipse cx="320" cy="75" rx="42" ry="40"/><ellipse cx="340" cy="25" rx="10" ry="15"/></g>
<g class="b"><ellipse cx="20" cy="70" rx="5" ry="6"/><ellipse cx="48" cy="70" rx="6" ry="8"/><ellipse cx="78" cy="68" rx="6" ry="9"/><ellipse cx="125" cy="50" rx="22" ry="32"/><ellipse cx="230" cy="35" rx="30" ry="28"/><ellipse cx="205" cy="105" rx="18" ry="20"/><ellipse cx="290" cy="95" rx="14" ry="25"/><ellipse cx="362" cy="60" rx="10" ry="30"/></g>
</g>
<g transform="translate(1425,962)" clip-path="url(#cp)">
<rect width="364" height="143" fill="#20f020"/>
<ellipse cx="200" cy="28" rx="170" ry="18" fill="#b0f000" opacity=".6"/><ellipse cx="200" cy="118" rx="170" ry="16" fill="#40ffc0" opacity=".6"/>
<g class="b"><ellipse cx="8" cy="66" rx="5" ry="6"/><ellipse cx="35" cy="70" rx="6" ry="8"/><ellipse cx="62" cy="64" rx="6" ry="8"/><ellipse cx="95" cy="70" rx="7" ry="10"/><ellipse cx="175" cy="78" rx="22" ry="40"/><ellipse cx="265" cy="80" rx="18" ry="35"/><ellipse cx="350" cy="95" rx="18" ry="45"/></g>
<g class="r"><ellipse cx="20" cy="68" rx="5" ry="6"/><ellipse cx="48" cy="66" rx="6" ry="8"/><ellipse cx="78" cy="68" rx="6" ry="9"/><ellipse cx="130" cy="45" rx="20" ry="25"/><ellipse cx="230" cy="38" rx="30" ry="28"/><ellipse cx="320" cy="45" rx="35" ry="30"/><ellipse cx="290" cy="105" rx="14" ry="20"/></g>
</g>
<g transform="translate(1425,1103)" clip-path="url(#cp)">
<rect width="364" height="143" fill="#20f020"/>
<ellipse cx="200" cy="10" rx="170" ry="12" fill="#b0f000" opacity=".6"/>
<ellipse cx="70" cy="38" rx="75" ry="28" class="b"/><ellipse cx="70" cy="98" rx="75" ry="30" class="r"/>
<g class="r"><ellipse cx="190" cy="55" rx="18" ry="30"/><ellipse cx="250" cy="50" rx="15" ry="30"/><ellipse cx="305" cy="45" rx="18" ry="28"/><ellipse cx="355" cy="105" rx="12" ry="20"/><ellipse cx="60" cy="60" rx="12" ry="10"/></g>
<g class="b"><ellipse cx="215" cy="75" rx="20" ry="38"/><ellipse cx="285" cy="95" rx="22" ry="30"/><ellipse cx="340" cy="70" rx="20" ry="40"/><ellipse cx="100" cy="80" rx="12" ry="10"/></g>
</g>
<g transform="translate(1425,1244)" clip-path="url(#cp)">
<rect width="364" height="143" fill="#20f020"/>
<ellipse cx="200" cy="134" rx="170" ry="12" fill="#40ffc0" opacity=".6"/>
<ellipse cx="70" cy="38" rx="75" ry="30" class="r"/><ellipse cx="70" cy="100" rx="75" ry="28" class="b"/>
<g class="b"><ellipse cx="190" cy="48" rx="18" ry="25"/><ellipse cx="260" cy="40" rx="16" ry="25"/><ellipse cx="330" cy="50" rx="20" ry="40"/><ellipse cx="60" cy="62" rx="12" ry="10"/></g>
<g class="r"><ellipse cx="220" cy="80" rx="20" ry="40"/><ellipse cx="290" cy="75" rx="22" ry="35"/><ellipse cx="350" cy="100" rx="16" ry="25"/><ellipse cx="110" cy="80" rx="10" ry="10"/></g>
</g>
<g transform="translate(1425,1387)" clip-path="url(#cp)">
<rect width="364" height="143" class="r"/>
<path d="M150,0 L364,0 L364,30 L300,38 L250,30 L200,40 L150,35 Z" class="b"/>
<g class="b"><ellipse cx="30" cy="125" rx="35" ry="25"/><ellipse cx="120" cy="75" rx="18" ry="50"/><ellipse cx="180" cy="60" rx="14" ry="40"/><ellipse cx="235" cy="85" rx="14" ry="35"/><ellipse cx="290" cy="60" rx="16" ry="30"/><ellipse cx="340" cy="90" rx="22" ry="35"/><ellipse cx="90" cy="20" rx="16" ry="14"/><ellipse cx="200" cy="125" rx="18" ry="14"/></g>
<g fill="#30f030"><ellipse cx="60" cy="60" rx="6" ry="8"/><ellipse cx="150" cy="125" rx="6" ry="6"/><ellipse cx="265" cy="120" rx="6" ry="8"/></g>
</g>

<!-- ===== PANEL D col1 ===== -->
<g transform="translate(2252,821)" clip-path="url(#cp)"><rect width="364" height="143" fill="#ffc000"/><ellipse cx="5" cy="71" rx="9" ry="13" fill="#00c0ff"/><ellipse cx="5" cy="71" rx="6" ry="10" class="b"/><path d="M30,35 Q78,72 30,112" stroke="#ff6000" stroke-width="4" fill="none"/></g>
<g transform="translate(2252,964)" clip-path="url(#cp)"><rect width="364" height="143" fill="#40ff00"/><ellipse cx="0" cy="71" rx="45" ry="72" fill="#30f000"/><ellipse cx="5" cy="71" rx="10" ry="16" class="r"/></g>
<g transform="translate(2252,1105)" clip-path="url(#cp)"><rect width="364" height="143" fill="#00ff60"/><ellipse cx="5" cy="71" rx="8" ry="12" class="b"/></g>
<g transform="translate(2252,1247)" clip-path="url(#cp)"><rect width="364" height="143" fill="#f40000"/><ellipse cx="5" cy="71" rx="11" ry="15" fill="#ffe000"/><ellipse cx="5" cy="71" rx="8" ry="12" class="b"/></g>
<g transform="translate(2252,1390)" clip-path="url(#cp)"><rect width="364" height="143" fill="#00ffff"/><ellipse cx="5" cy="70" rx="8" ry="12" class="b"/></g>

<!-- ===== PANEL D col2 ===== -->
<g transform="translate(2817,821)" clip-path="url(#cp)">
<rect width="364" height="143" fill="#ffc000"/>
<ellipse cx="120" cy="71" rx="30" ry="12" fill="#00e0ff"/>
<path d="M140,60 C170,50 200,46 230,48 C260,40 300,44 320,55 C335,65 330,85 310,90 C290,100 270,108 250,100 C220,96 190,90 160,84 Z" fill="#60ff80"/>
<ellipse cx="200" cy="62" rx="20" ry="10" fill="#00ffe0"/><ellipse cx="260" cy="80" rx="18" ry="12" fill="#00e0ff"/><ellipse cx="300" cy="65" rx="12" ry="10" fill="#40ffc0"/><ellipse cx="230" cy="95" rx="15" ry="8" fill="#c0ff40"/><ellipse cx="280" cy="50" rx="12" ry="8" fill="#00d0ff"/>
<path d="M0,61 L130,61 C140,60 150,62 160,64 L160,80 L130,82 L0,81 Z" class="b"/>
</g>
<g transform="translate(2817,964)" clip-path="url(#cp)">
<rect width="364" height="143" fill="#40ff00"/>
<ellipse cx="180" cy="71" rx="170" ry="40" fill="#80f000" opacity=".5"/>
<path d="M0,52 L120,50 C150,48 170,52 180,56 L180,84 C150,88 120,88 100,86 L0,86 Z" class="r"/>
<g class="b"><ellipse cx="40" cy="70" rx="10" ry="5"/><ellipse cx="90" cy="72" rx="8" ry="4"/><ellipse cx="150" cy="74" rx="12" ry="6"/><ellipse cx="200" cy="62" rx="28" ry="22"/><ellipse cx="225" cy="95" rx="18" ry="18"/><ellipse cx="275" cy="70" rx="26" ry="40"/><ellipse cx="320" cy="80" rx="22" ry="30"/><ellipse cx="300" cy="50" rx="12" ry="14"/></g>
<g class="r"><rect x="248" y="55" width="4" height="35"/><rect x="298" y="75" width="4" height="30"/></g>
</g>
<g transform="translate(2817,1105)" clip-path="url(#cp)">
<rect width="364" height="143" fill="#10f040"/>
<path d="M0,54 L200,52 L200,82 L0,82 Z" class="b"/>
<path d="M170,50 C200,40 230,40 250,46 C270,50 280,42 300,44 C330,46 340,60 335,80 C330,96 300,100 280,95 C260,100 240,104 225,96 C210,90 190,88 170,84 Z" class="b"/>
<g class="r"><ellipse cx="100" cy="60" rx="40" ry="4"/><ellipse cx="150" cy="78" rx="30" ry="4"/><ellipse cx="40" cy="76" rx="25" ry="3"/><ellipse cx="265" cy="85" rx="3" ry="12"/></g>
</g>
<g transform="translate(2817,1247)" clip-path="url(#cp)">
<rect width="364" height="143" fill="#40f0c0"/>
<ellipse cx="60" cy="20" rx="60" ry="18" fill="#40ff40"/><ellipse cx="300" cy="130" rx="50" ry="14" fill="#60ff60"/>
<ellipse cx="30" cy="20" rx="6" ry="8" fill="#ffe000"/><ellipse cx="60" cy="135" rx="6" ry="8" class="r"/><ellipse cx="160" cy="10" rx="8" ry="8" fill="#ffe000"/><ellipse cx="340" cy="10" rx="10" ry="12" fill="#0060ff"/><ellipse cx="345" cy="130" rx="8" ry="10" fill="#0060ff"/>
<path d="M0,46 L180,46 L180,104 L280,104 L280,92 L180,92 L0,100 Z" class="b"/>
<path d="M10,62 L160,62 C200,44 240,42 280,44 C310,46 340,52 345,70 C348,90 330,104 300,104 C260,106 220,102 180,96 L150,84 L10,84 Z" class="r"/>
<g class="b"><ellipse cx="200" cy="60" rx="8" ry="5"/><ellipse cx="260" cy="88" rx="10" ry="4"/></g>
</g>
<g transform="translate(2817,1390)" clip-path="url(#cp)">
<rect width="364" height="143" fill="#20f020"/>
<path d="M0,52 L180,50 L180,70 L0,70 Z" class="r"/><path d="M0,70 L180,70 L180,88 L0,90 Z" class="b"/>
<path d="M175,52 C200,42 230,40 250,46 C270,50 280,40 300,42 C330,44 340,60 335,80 C330,96 300,104 280,98 C260,104 240,106 225,98 C210,90 190,88 175,84 Z" class="b"/>
<ellipse cx="300" cy="88" rx="25" ry="12" class="r"/><ellipse cx="60" cy="72" rx="10" ry="4" fill="#00e0ff"/>
</g>

<!-- ===== PANEL D col3 ===== -->
<g transform="translate(3401,818)" clip-path="url(#cp)">
<rect width="364" height="143" fill="#ffc000"/>
<ellipse cx="110" cy="71" rx="20" ry="10" fill="#00e0ff"/>
<path d="M0,63 L117,63 L117,78 L0,78 Z" class="b"/>
<ellipse cx="140" cy="70" rx="12" ry="8" fill="#40ffc0"/><ellipse cx="170" cy="62" rx="10" ry="10" fill="#00e0ff"/><ellipse cx="190" cy="78" rx="12" ry="10" fill="#80ff80"/><ellipse cx="215" cy="60" rx="8" ry="14" fill="#40ffc0"/><ellipse cx="240" cy="72" rx="10" ry="8" fill="#00e0ff"/><ellipse cx="270" cy="64" rx="12" ry="8" fill="#60ffa0"/><ellipse cx="300" cy="55" rx="14" ry="10" fill="#00ffc0"/><ellipse cx="320" cy="72" rx="10" ry="10" fill="#40ffa0"/><ellipse cx="300" cy="35" rx="8" ry="8" fill="#80ff60"/><ellipse cx="260" cy="95" rx="6" ry="10" fill="#40ffc0"/>
</g>
<g transform="translate(3401,961)" clip-path="url(#cp)">
<rect width="364" height="143" fill="#40ff00"/>
<ellipse cx="300" cy="100" rx="40" ry="12" fill="#ffc000"/>
<path d="M0,48 L150,46 C200,44 260,42 308,46 L310,84 C250,86 150,86 0,84 Z" class="r"/>
<g class="b"><ellipse cx="150" cy="72" rx="8" ry="6"/><ellipse cx="200" cy="70" rx="12" ry="8"/><ellipse cx="230" cy="60" rx="10" ry="12"/><ellipse cx="260" cy="80" rx="10" ry="8"/><ellipse cx="300" cy="76" rx="12" ry="10"/><ellipse cx="335" cy="50" rx="16" ry="20"/><ellipse cx="350" cy="90" rx="10" ry="20"/><ellipse cx="90" cy="68" rx="10" ry="4"/></g>
</g>
<g transform="translate(3401,1103)" clip-path="url(#cp)">
<rect width="364" height="143" fill="#10f040"/>
<ellipse cx="260" cy="100" rx="40" ry="10" fill="#a0ff00"/>
<path d="M0,54 L364,50 L364,95 L0,88 Z" class="b"/>
<g class="r"><ellipse cx="60" cy="62" rx="40" ry="5"/><ellipse cx="140" cy="80" rx="40" ry="5"/><ellipse cx="200" cy="62" rx="20" ry="6"/><ellipse cx="250" cy="82" rx="15" ry="8"/><ellipse cx="290" cy="66" rx="12" ry="10"/><ellipse cx="320" cy="90" rx="10" ry="8"/></g>
<ellipse cx="345" cy="60" rx="22" ry="24" class="b"/>
</g>
<g transform="translate(3401,1244)" clip-path="url(#cp)">
<rect width="364" height="143" fill="#40e8e0"/>
<ellipse cx="30" cy="20" rx="30" ry="12" fill="#0080ff"/><ellipse cx="220" cy="15" rx="10" ry="25" fill="#0060ff"/><ellipse cx="340" cy="15" rx="20" ry="20" fill="#0040ff"/><ellipse cx="250" cy="125" rx="12" ry="18" fill="#0040ff"/><ellipse cx="150" cy="130" rx="10" ry="12" fill="#0060ff"/><ellipse cx="30" cy="130" rx="8" ry="8" fill="#ffe000"/><ellipse cx="100" cy="15" rx="30" ry="10" fill="#60ff80"/>
<path d="M0,46 L364,32 L364,118 L0,92 Z" class="b"/>
<path d="M0,62 L200,60 C260,56 320,50 364,52 L364,112 L300,110 L200,96 L0,86 Z" class="r"/>
<g class="b"><ellipse cx="80" cy="74" rx="35" ry="4"/><ellipse cx="180" cy="80" rx="30" ry="5"/><ellipse cx="260" cy="90" rx="10" ry="14"/><ellipse cx="330" cy="70" rx="12" ry="18"/></g>
</g>
<g transform="translate(3401,1387)" clip-path="url(#cp)">
<rect width="364" height="143" fill="#20f020"/>
<path d="M0,52 L364,40 L364,105 L0,90 Z" class="r"/>
<g class="b"><path d="M0,70 L200,72 L200,80 L0,84 Z"/><ellipse cx="350" cy="70" rx="20" ry="40"/><ellipse cx="300" cy="95" rx="20" ry="8"/><ellipse cx="240" cy="60" rx="10" ry="12"/><ellipse cx="280" cy="75" rx="8" ry="10"/></g>
</g>

<!-- ===== PANEL E col1 ===== -->
<g transform="translate(1196,1662)" clip-path="url(#cp)"><rect width="364" height="143" fill="#0000f0"/><ellipse cx="4" cy="70" rx="10" ry="13" fill="#ffe000"/><ellipse cx="3" cy="70" rx="7" ry="11" class="r"/></g>
<g transform="translate(1196,1803)" clip-path="url(#cp)"><rect width="364" height="143" fill="#00ffcc"/><ellipse cx="0" cy="71" rx="30" ry="50" fill="#00f8e0"/><ellipse cx="4" cy="70" rx="10" ry="14" class="b"/></g>
<g transform="translate(1196,1947)" clip-path="url(#cp)"><rect width="364" height="143" fill="#d8ff00"/><ellipse cx="2" cy="70" rx="4" ry="8" fill="#80ff40"/></g>
<g transform="translate(1196,2087)" clip-path="url(#cp)"><rect width="364" height="143" fill="#00a0ff"/><ellipse cx="4" cy="70" rx="10" ry="14" class="b"/></g>
<g transform="translate(1196,2230)" clip-path="url(#cp)"><rect width="364" height="143" fill="#a8ff00"/><path d="M20,25 Q60,71 20,118" stroke="#c8ff00" stroke-width="5" fill="none"/><ellipse cx="3" cy="70" rx="5" ry="10" fill="#e0ff00"/></g>

<!-- ===== PANEL E col2 ===== -->
<g transform="translate(1865,1658)" clip-path="url(#cp)">
<rect width="364" height="143" fill="#0000f0"/>
<path d="M124,62 C160,50 200,44 240,46 C280,40 320,50 330,62 C335,80 320,95 300,98 C270,104 240,100 210,94 C180,88 150,82 124,80 Z" fill="#00c0ff"/>
<ellipse cx="200" cy="70" rx="30" ry="12" fill="#40ffd0"/><ellipse cx="270" cy="62" rx="25" ry="15" fill="#60ffc0"/><ellipse cx="300" cy="80" rx="15" ry="12" fill="#40e0ff"/><ellipse cx="250" cy="88" rx="14" ry="8" fill="#0080ff"/>
<ellipse cx="100" cy="70" rx="40" ry="14" fill="#ffe000"/>
<path d="M0,60 L124,60 L132,70 L124,80 L0,79 Z" class="r"/>
</g>
<g transform="translate(1865,1801)" clip-path="url(#cp)">
<rect width="364" height="143" fill="#30ff00"/>
<ellipse cx="120" cy="86" rx="60" ry="6" fill="#ffb000"/>
<path d="M0,56 L160,56 L160,60 L0,60 Z" class="r"/>
<path d="M0,60 L165,58 L165,84 L0,84 Z" class="b"/>
<path d="M150,55 C180,44 210,40 240,42 C270,36 300,38 320,46 C340,56 340,90 325,100 C305,108 280,104 265,96 C240,106 215,104 200,92 C180,90 160,86 150,82 Z" class="b"/>
<ellipse cx="170" cy="92" rx="14" ry="6" class="r"/>
</g>
<g transform="translate(1865,1943)" clip-path="url(#cp)">
<rect width="364" height="143" fill="#a0f000"/>
<ellipse cx="60" cy="84" rx="40" ry="6" class="b"/><ellipse cx="120" cy="58" rx="30" ry="5" fill="#00e0ff"/><ellipse cx="30" cy="58" rx="20" ry="4" fill="#00e0ff"/>
<path d="M0,59 L179,59 L179,85 L0,85 Z" class="r"/>
<path d="M165,52 C190,42 220,40 245,44 C270,36 300,38 320,46 C340,56 340,90 325,100 C305,106 285,102 270,96 C250,104 225,104 210,94 C190,90 175,86 165,82 Z" class="r"/>
<ellipse cx="60" cy="80" rx="20" ry="3" class="b"/>
</g>
<g transform="translate(1865,2084)" clip-path="url(#cp)">
<rect width="364" height="143" fill="#a0ff20"/>
<path d="M0,50 L192,50 L192,92 L0,92 Z" class="r"/>
<path d="M0,62 L180,62 L180,76 L0,76 Z" class="b"/>
<path d="M200,92 L300,92 L300,104 L200,104 Z" class="r"/>
<path d="M165,52 C190,42 220,40 245,44 C270,38 300,40 320,48 C340,58 340,92 325,102 C305,108 285,104 270,98 C250,106 225,106 210,96 C190,92 175,88 165,84 Z" class="b"/>
</g>
<g transform="translate(1865,2227)" clip-path="url(#cp)">
<rect width="364" height="143" fill="#a0f000"/>
<ellipse cx="60" cy="84" rx="40" ry="6" class="b"/><ellipse cx="120" cy="58" rx="30" ry="5" fill="#00e0ff"/>
<path d="M0,59 L179,59 L179,85 L0,85 Z" class="r"/>
<path d="M165,52 C190,42 220,40 245,44 C270,38 300,40 320,48 C340,58 340,88 325,96 C305,102 285,100 270,94 C250,100 225,100 210,92 C190,88 175,86 165,82 Z" class="r"/>
</g>

<!-- ===== PANEL E col3 ===== -->
<g transform="translate(2495,1655)" clip-path="url(#cp)">
<rect width="364" height="143" fill="#0000f0"/>
<ellipse cx="110" cy="72" rx="25" ry="10" fill="#ffe000"/>
<path d="M0,64 L124,64 L124,80 L0,80 Z" class="r"/>
<ellipse cx="140" cy="70" rx="12" ry="6" fill="#00e0ff"/><ellipse cx="160" cy="66" rx="10" ry="10" fill="#40ffd0"/><ellipse cx="185" cy="75" rx="8" ry="12" fill="#00c0ff"/><ellipse cx="205" cy="64" rx="10" ry="10" fill="#40ffc0"/><ellipse cx="230" cy="70" rx="10" ry="14" fill="#00d0ff"/><ellipse cx="255" cy="68" rx="12" ry="8" fill="#60ffc0"/><ellipse cx="280" cy="62" rx="14" ry="10" fill="#00e0ff"/><ellipse cx="310" cy="58" rx="10" ry="10" fill="#40ffd0"/><ellipse cx="200" cy="95" rx="6" ry="10" fill="#00b0ff"/><ellipse cx="240" cy="40" rx="6" ry="6" fill="#00b0ff"/>
</g>
<g transform="translate(2495,1797)" clip-path="url(#cp)">
<rect width="364" height="143" fill="#30ff00"/>
<ellipse cx="250" cy="95" rx="45" ry="9" fill="#ffc000"/>
<path d="M60,56 L300,44 L310,56 L60,58 Z" class="r"/>
<path d="M0,57 L364,55 L364,83 L0,83 Z" class="b"/>
<g class="b"><ellipse cx="310" cy="40" rx="16" ry="20"/><ellipse cx="330" cy="90" rx="14" ry="16"/><ellipse cx="250" cy="85" rx="18" ry="12"/><ellipse cx="355" cy="60" rx="10" ry="15"/></g>
<ellipse cx="290" cy="70" rx="6" ry="4" class="r"/>
</g>
<g transform="translate(2495,1939)" clip-path="url(#cp)">
<rect width="364" height="143" fill="#a0f000"/>
<path d="M0,60 L364,50 L364,95 L0,84 Z" fill="#00d0ff"/>
<g class="r"><ellipse cx="40" cy="70" rx="40" ry="10"/><ellipse cx="130" cy="72" rx="35" ry="10"/><ellipse cx="200" cy="68" rx="20" ry="16"/><ellipse cx="240" cy="75" rx="20" ry="18"/><ellipse cx="290" cy="65" rx="20" ry="22"/><ellipse cx="335" cy="50" rx="24" ry="20"/><ellipse cx="355" cy="80" rx="10" ry="18"/></g>
<g class="b"><ellipse cx="80" cy="68" rx="10" ry="6"/><ellipse cx="170" cy="72" rx="8" ry="8"/><ellipse cx="260" cy="85" rx="10" ry="6"/><ellipse cx="320" cy="82" rx="8" ry="6"/></g>
</g>
<g transform="translate(2495,2081)" clip-path="url(#cp)">
<rect width="364" height="143" fill="#c8ff00"/>
<path d="M0,58 L364,35 L364,115 L0,85 Z" class="b"/>
<path d="M0,52 L364,28 L364,58 L0,68 Z" class="r"/>
<path d="M100,84 L364,76 L364,115 L200,110 Z" class="r"/>
<ellipse cx="345" cy="50" rx="16" ry="22" class="b"/><ellipse cx="250" cy="90" rx="12" ry="8" class="b"/>
</g>
<g transform="translate(2495,2223)" clip-path="url(#cp)">
<rect width="364" height="143" fill="#a0f000"/>
<path d="M0,60 L364,50 L364,95 L0,84 Z" fill="#00d0ff"/>
<g class="r"><ellipse cx="40" cy="70" rx="40" ry="10"/><ellipse cx="130" cy="72" rx="35" ry="10"/><ellipse cx="200" cy="68" rx="20" ry="16"/><ellipse cx="240" cy="75" rx="20" ry="18"/><ellipse cx="290" cy="65" rx="20" ry="22"/><ellipse cx="335" cy="50" rx="24" ry="20"/><ellipse cx="355" cy="80" rx="10" ry="18"/></g>
<g class="b"><ellipse cx="80" cy="68" rx="10" ry="6"/><ellipse cx="170" cy="72" rx="8" ry="8"/><ellipse cx="260" cy="85" rx="10" ry="6"/></g>
</g>

<!-- ===== LABELS ===== -->
<g class="t">
<text x="20" y="106" font-size="64">(a)</text>
<text x="1925" y="91" font-size="64">(b)</text>
<text x="15" y="881" font-size="64">(c)</text>
<text x="1932" y="903" font-size="64">(d)</text>
<text x="882" y="1725" font-size="64">(e)</text>

<g font-size="76"><text x="112" y="139">ξ</text><text x="112" y="266">ξ</text><text x="112" y="418">ξ</text><text x="112" y="545">ξ</text><text x="112" y="697">ξ</text></g>
<g font-size="44"><text x="158" y="169">1</text><text x="158" y="298">2</text><text x="158" y="448">3</text><text x="158" y="574">4</text><text x="158" y="726">5</text></g>
<g font-size="34" font-style="italic"><text x="163" y="101">u</text><text x="163" y="231">u</text><text x="163" y="380">u</text><text x="163" y="510">u</text><text x="163" y="657">u</text></g>

<g font-size="76"><text x="2064" y="135">ξ</text><text x="2064" y="264">ξ</text><text x="2064" y="414">ξ</text><text x="2064" y="547">ξ</text><text x="2064" y="692">ξ</text></g>
<g font-size="44"><text x="2106" y="162">1</text><text x="2106" y="298">2</text><text x="2106" y="445">3</text><text x="2106" y="572">4</text><text x="2106" y="726">5</text></g>
<g font-size="34" font-style="italic"><text x="2117" y="92">v</text><text x="2117" y="231">v</text><text x="2117" y="378">v</text><text x="2117" y="510">v</text><text x="2117" y="657">v</text></g>

<g font-size="76"><text x="104" y="918">ξ</text><text x="104" y="1062">ξ</text><text x="104" y="1205">ξ</text><text x="104" y="1347">ξ</text><text x="104" y="1490">ξ</text></g>
<g font-size="44"><text x="152" y="945">1</text><text x="152" y="1090">2</text><text x="152" y="1232">3</text><text x="152" y="1366">4</text><text x="152" y="1515">5</text></g>
<g font-size="34" font-style="italic"><text x="152" y="880">w</text><text x="152" y="1015">w</text><text x="152" y="1160">w</text><text x="152" y="1295">w</text><text x="152" y="1443">w</text></g>

<g font-size="76"><text x="2066" y="918">ζ</text><text x="2066" y="1058">ζ</text><text x="2066" y="1201">ζ</text><text x="2066" y="1344">ζ</text><text x="2066" y="1486">ζ</text></g>
<g font-size="44"><text x="2112" y="940">1</text><text x="2112" y="1080">2</text><text x="2112" y="1226">3</text><text x="2112" y="1362">4</text><text x="2112" y="1510">5</text></g>

<g font-size="62" font-style="italic"><text x="1016" y="1759">η</text><text x="1016" y="1902">η</text><text x="1016" y="2044">η</text><text x="1016" y="2185">η</text><text x="1016" y="2328">η</text></g>
<g font-size="40"><text x="1057" y="1785">1</text><text x="1057" y="1928">2</text><text x="1057" y="2070">3</text><text x="1057" y="2211">4</text><text x="1057" y="2354">5</text></g>
</g>
</svg>
</body></html>
